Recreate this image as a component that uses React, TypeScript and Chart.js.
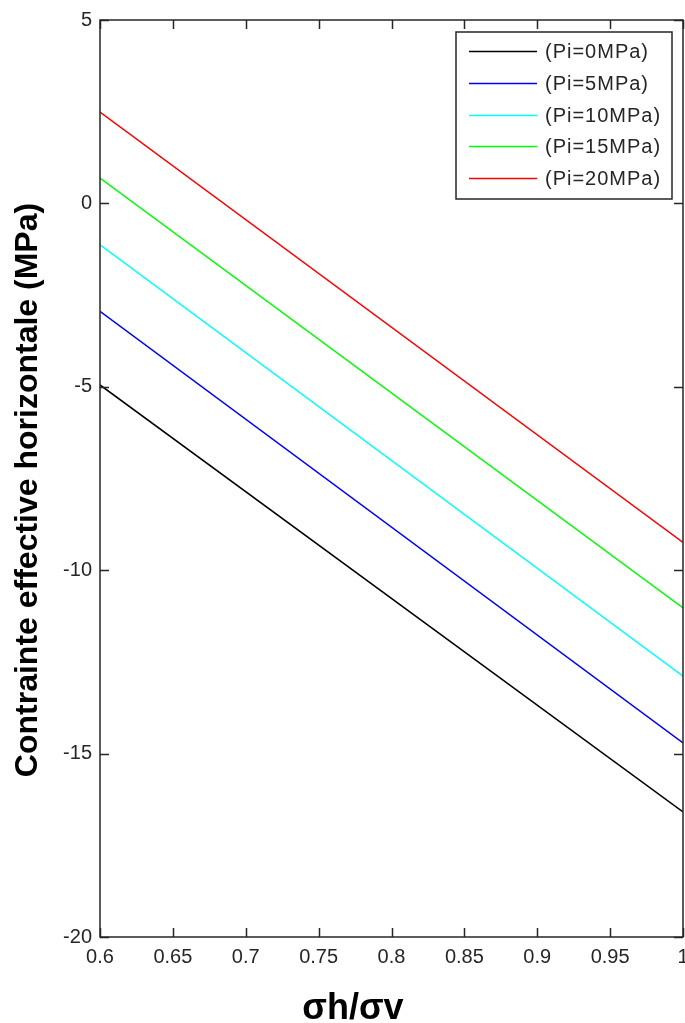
import React, { useEffect, useRef } from "react";
import { Chart, registerables } from "chart.js";

Chart.register(...registerables);

const X_VALUES = [0.6, 1.0];
const SERIES_LABELS = ["(Pi=0MPa)", "(Pi=5MPa)", "(Pi=10MPa)", "(Pi=15MPa)", "(Pi=20MPa)"];
const PI_0 = [-4.95, -16.59];
const PI_5 = [-2.94, -14.71];
const PI_10 = [-1.13, -12.89];
const PI_15 = [0.69, -11.03];
const PI_20 = [2.49, -9.24];
const SERIES_VALUES = [PI_0, PI_5, PI_10, PI_15, PI_20];
const SERIES_COLORS = ["#000000", "#0000ff", "#00ffff", "#00ff00", "#ff0000"];
const X_TITLE = "σh/σv";
const Y_TITLE = "Contrainte effective horizontale (MPa)";

const FONT = "'Liberation Sans', Arial, Helvetica, sans-serif";
const AXIS_COLOR = "#262626";

const decorPlugin = {
  id: "decor",
  afterDraw(chart: any) {
    const { ctx, chartArea } = chart;
    const { left, right, top, bottom } = chartArea;
    const xs = chart.scales.x;
    const ys = chart.scales.y;
    ctx.save();
    // frame
    ctx.strokeStyle = AXIS_COLOR;
    ctx.lineWidth = 1.5;
    ctx.strokeRect(left, top, right - left, bottom - top);
    // inward ticks
    const TL = 9;
    ctx.beginPath();
    xs.ticks.forEach((t: any) => {
      const px = Math.round(xs.getPixelForValue(t.value)) + 0.5;
      ctx.moveTo(px, bottom);
      ctx.lineTo(px, bottom - TL);
      ctx.moveTo(px, top);
      ctx.lineTo(px, top + TL);
    });
    ys.ticks.forEach((t: any) => {
      const py = Math.round(ys.getPixelForValue(t.value)) + 0.5;
      ctx.moveTo(left, py);
      ctx.lineTo(left + TL, py);
      ctx.moveTo(right, py);
      ctx.lineTo(right - TL, py);
    });
    ctx.stroke();

    // legend
    const bx = 456, by = 32, bw = 216, bh = 167;
    ctx.fillStyle = "#ffffff";
    ctx.fillRect(bx, by, bw, bh);
    ctx.lineWidth = 1.5;
    ctx.strokeStyle = AXIS_COLOR;
    ctx.strokeRect(bx, by, bw, bh);
    const rowY = [51, 83, 115, 146, 178];
    ctx.font = `20px ${FONT}`;
    (ctx as any).letterSpacing = "1px";
    ctx.textBaseline = "middle";
    ctx.textAlign = "left";
    chart.data.datasets.forEach((ds: any, i: number) => {
      const y = rowY[i] + 0.5;
      ctx.strokeStyle = ds.borderColor;
      ctx.lineWidth = 1.5;
      ctx.beginPath();
      ctx.moveTo(469, y);
      ctx.lineTo(537, y);
      ctx.stroke();
      ctx.fillStyle = AXIS_COLOR;
      ctx.fillText(ds.label, 545, y + 1);
    });
    (ctx as any).letterSpacing = "0px";

    // axis titles
    ctx.fillStyle = "#000000";
    ctx.font = `bold 32px ${FONT}`;
    ctx.textAlign = "center";
    ctx.textBaseline = "alphabetic";
    ctx.save();
    ctx.translate(37, 490);
    ctx.rotate(-Math.PI / 2);
    ctx.fillText(Y_TITLE, 0, 0);
    ctx.restore();
    ctx.font = `bold 36px ${FONT}`;
    ctx.fillText(X_TITLE, 353, 1019);
    ctx.restore();
  },
};

export default function App() {
  const ref = useRef<HTMLCanvasElement | null>(null);
  useEffect(() => {
    if (!ref.current) return;
    const chart = new Chart(ref.current, {
      type: "line",
      data: {
        datasets: SERIES_VALUES.map((vals, i) => ({
          label: SERIES_LABELS[i],
          data: X_VALUES.map((x, j) => ({ x, y: vals[j] })),
          borderColor: SERIES_COLORS[i],
          backgroundColor: SERIES_COLORS[i],
          borderWidth: 1.5,
          pointRadius: 0,
          fill: false,
          tension: 0,
        })),
      },
      options: {
        animation: false,
        responsive: false,
        devicePixelRatio: 1,
        layout: { padding: { top: 20, right: 2, left: 0, bottom: 0 } },
        plugins: {
          legend: { display: false },
          tooltip: { enabled: false },
        },
        scales: {
          x: {
            type: "linear",
            min: 0.6,
            max: 1,
            grid: { display: false, drawTicks: false },
            border: { display: false },
            ticks: {
              stepSize: 0.05,
              autoSkip: false,
              maxRotation: 0,
              padding: 8,
              color: AXIS_COLOR,
              font: { size: 20, family: FONT },
              callback: (v: any) => String(parseFloat(Number(v).toFixed(2))),
            },
            afterFit: (s: any) => {
              s.height = 86;
              s.paddingLeft = 0;
              s.paddingRight = 0;
            },
          },
          y: {
            type: "linear",
            min: -20,
            max: 5,
            grid: { display: false, drawTicks: false },
            border: { display: false },
            ticks: {
              stepSize: 5,
              padding: 8,
              color: AXIS_COLOR,
              font: { size: 20, family: FONT },
            },
            afterFit: (s: any) => {
              s.width = 100;
              s.paddingTop = 0;
              s.paddingBottom = 0;
            },
          },
        },
      },
      plugins: [decorPlugin],
    } as any);
    return () => chart.destroy();
  }, []);
  return (
    <div style={{ position: "absolute", left: 0, top: 0, width: 685, height: 1023, background: "#fff" }}>
      <canvas ref={ref} width={685} height={1023} style={{ display: "block" }} />
    </div>
  );
}
